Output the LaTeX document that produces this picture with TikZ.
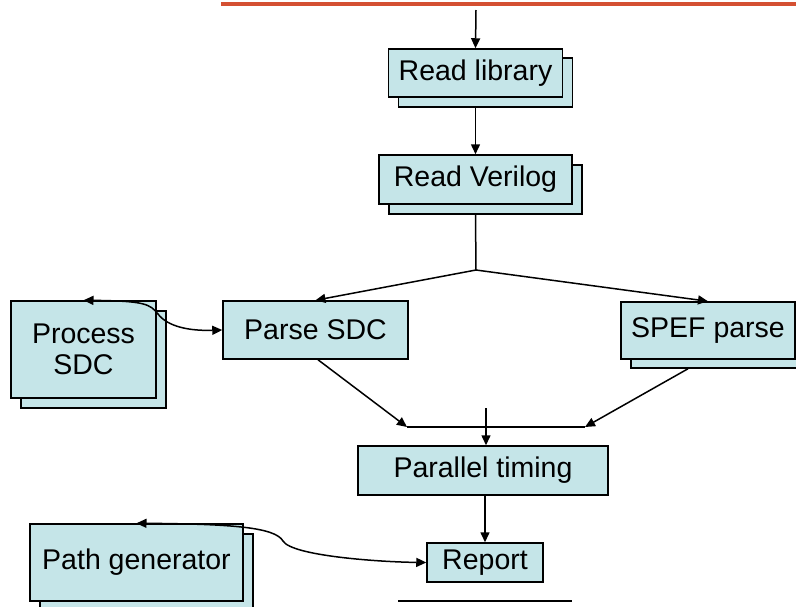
\documentclass[tikz,border=0pt]{standalone}
\usepackage{fontspec}
\setmainfont{Liberation Sans}
\usetikzlibrary{arrows.meta}
\definecolor{boxfill}{RGB}{197,229,232}
\definecolor{redline}{RGB}{212,80,50}
\begin{document}
\begin{tikzpicture}[x=1pt,y=-1pt,
  box/.style={draw=black,fill=boxfill,line width=1.5pt,inner sep=0pt,font=\fontsize{28.5}{32}\selectfont},
  conn/.style={line width=1.5pt,-{Triangle[length=10pt,width=9pt]}},
  dconn/.style={line width=1.5pt,{Triangle[length=10pt,width=9pt]}-{Triangle[length=10pt,width=9pt]}},
  plain/.style={line width=1.5pt}]
\useasboundingbox (0,0) rectangle (796,606);
\clip (0,0) rectangle (796,606);
\fill[white] (0,0) rectangle (796,606);
\draw[redline,line width=4pt] (221,4) -- (796,4);
% shadows
\node[box,minimum width=174pt,minimum height=49pt] (rlS) at (485.5,82.5) {};
\node[box,minimum width=174pt,minimum height=48pt] (rl) at (475.5,73) {Read library};
\node[box,minimum width=193pt,minimum height=49pt] (rvS) at (485.5,189.5) {};
\node[box,minimum width=193pt,minimum height=49pt] (rv) at (475.5,179.5) {Read Verilog};
\node[box,minimum width=185pt,minimum height=58pt] (ps) at (315.5,330) {Parse SDC};
\node[box,minimum width=145pt,minimum height=97pt] (prS) at (93.5,359.5) {};
\node[box,minimum width=145pt,minimum height=97pt,align=center] (pr) at (83.5,349.5) {Process\\[-1pt]SDC};
\node[box,minimum width=174pt,minimum height=57pt] (spS) at (718,339.5) {};
\node[box,minimum width=174pt,minimum height=57pt] (sp) at (708,330.5) {SPEF parse};
\node[box,minimum width=250pt,minimum height=49pt] (pt) at (483,470.5) {Parallel timing};
\node[box,minimum width=116pt,minimum height=39pt] (rp) at (485,562.5) {Report};
\node[box,minimum width=213pt,minimum height=77pt] (pgS) at (146.5,572.5) {};
\node[box,minimum width=213pt,minimum height=77pt] (pg) at (136.5,562.5) {Path generator};
% coordinates
\coordinate (top) at (476,10);
\coordinate (j1) at (476,270);
\coordinate (hl) at (407,427);
\coordinate (hr) at (585,427);
\coordinate (vt) at (486,408);
\coordinate (bl) at (398,601);
\coordinate (br) at (572,601);
% connectors
\draw[conn] (top) -- (rl.north);
\draw[conn] (rlS.south -| rl.south) -- (rv.north);
\draw[plain] (rvS.south -| rv.south) -- (j1);
\draw[conn] (j1) -- (ps.north);
\draw[conn] (j1) -- (sp.north);
\draw[conn] ([xshift=2.5pt]ps.south) -- (hl);
\draw[conn] ([xshift=-30pt]spS.south) -- (hr);
\draw[plain] (hl) -- (hr);
\draw[conn] (vt) -- (vt |- pt.north);
\draw[conn] (pt.south -| rp.north) -- (rp.north);
\draw[plain] (bl) -- (br);
\draw[dconn] (pr.north) .. controls (145,301) and (150,304) .. (158,314) .. controls (168,327) and (190,331) .. (ps.west);
\draw[dconn] (pg.north) .. controls (230,524) and (275,527) .. (283,541) .. controls (292,556) and (380,562) .. (rp.west);
\end{tikzpicture}
\end{document}
